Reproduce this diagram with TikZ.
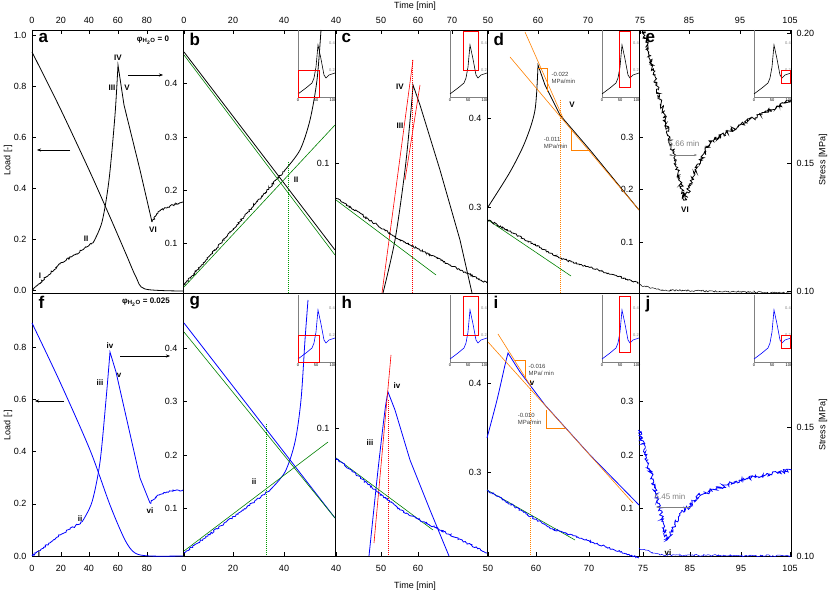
\documentclass[tikz,border=0pt]{standalone}
\usepackage{fontspec}
\setmainfont{Liberation Sans}
\usetikzlibrary{decorations.pathmorphing,arrows.meta}
\tikzset{
  curve/.style={line width=0.8pt},
  noisy/.style={decorate,decoration={random steps,segment length=1.2pt,amplitude=0.9pt}},
  rough/.style={decorate,decoration={random steps,segment length=1pt,amplitude=2pt}},
  fit/.style={line width=0.6pt},
  tick/.style={font=\fontsize{9}{9}\selectfont},
  plab/.style={font=\fontsize{17}{17}\selectfont\bfseries,anchor=north west},
  phase/.style={font=\fontsize{8}{8}\selectfont\bfseries},
  note/.style={font=\fontsize{6}{7}\selectfont,align=left,text=black!75},
}
\newcommand\inset[4]{% corner, colour, rect corners
  \begin{scope}[shift={#1}]
    \draw[gray,line width=0.3pt] (0,-67) -- (0,0) -- (37,0);
    \draw[#2,line width=0.6pt] (0,-3) -- (8,-9) -- (14,-14) -- (16,-19) -- (18,-30) -- (20,-52)
      -- (23,-38) -- (26,-22) -- (28,-19) -- (31,-22) -- (37,-24);
    \foreach \x/\t in {0/0,18/50,35/100} \node[font=\fontsize{4}{4}\selectfont] at (\x,3) {\t};
    \foreach \y/\t in {-27/0.2,-54/0.4} \node[font=\fontsize{4}{4}\selectfont,text=gray] at (34,\y) {\t};
    \draw[red,line width=0.7pt] #3 rectangle #4;
  \end{scope}}
\begin{document}
\begin{tikzpicture}[x=1pt,y=-1pt]
  \useasboundingbox (0,0) rectangle (831,593);
  % frames
  \draw[line width=0.6pt] (32,30) rectangle (791,556);
  \draw[line width=0.6pt] (32,293) -- (791,293);
  \foreach \x in {183,335,487,639} \draw[line width=0.6pt] (\x,30) -- (\x,556);

  % axis titles
  \node[tick] at (415,6) {Time [min]};
  \node[tick] at (415,586) {Time [min]};
  \foreach \y in {160,425} {
    \node[tick,rotate=90] at (8,\y) {Load [-]};
    \node[tick,rotate=90] at (823,\y) {Stress [MPa]};
  }

  % time ticks
  \foreach \x/\t in {32/0,61/20,89/40,118/60,147/80,184/0,233/20,284/40,336/40,381/50,418/60,452/70,488/50,538/60,588/70,640/75,689/85,740/95,790/105} {
    \node[tick] at (\x,20) {\t};
    \draw (\x,30) -- (\x,34);
  }
  \foreach \x/\t in {32/0,61/20,89/40,118/60,147/80,184/0,233/20,284/40,336/40,381/50,418/60,488/50,536/60,589/70,643/75,690/85,741/95,790/105} {
    \node[tick] at (\x,568) {\t};
    \draw (\x,556) -- (\x,552);
  }

  % load ticks
  \foreach \v in {0.0,0.2,0.4,0.6,0.8,1.0} {
    \node[tick,anchor=east] at (30,290-255*\v) {\v};
    \draw (32,290-255*\v) -- (36,290-255*\v);
  }
  \foreach \v in {0.0,0.2,0.4,0.6,0.8} {
    \node[tick,anchor=east] at (30,556-261*\v) {\v};
    \draw (32,556-261*\v) -- (36,556-261*\v);
  }
  % stress ticks
  \foreach \y/\t in {291/0.10,163/0.15,33/0.20,556/0.10,427/0.15} {
    \node[tick,anchor=west] at (793,\y) {\t};
    \draw (791,\y) -- (787,\y);
  }
  % inner axes
  \foreach \y/\t/\x in {83/0.4/183,137/0.3/183,190/0.2/183,243/0.1/183,163/0.1/335,118/0.4/487,207/0.3/487,137/0.3/639,189/0.2/639,242/0.1/639,
                        348/0.4/183,401/0.3/183,455/0.2/183,508/0.1/183,428/0.1/335,383/0.4/487,472/0.3/487,401/0.3/639,455/0.2/639,508/0.1/639} {
    \node[tick,anchor=east] at (\x-2,\y) {\t};
    \draw (\x,\y) -- (\x+4,\y);
  }

  % panel letters
  \foreach \x/\l in {32/a,183/b,335/c,487/d,639/e} \node[plab] at (\x+3,30) {\l};
  \foreach \x/\l in {32/f,183/g,335/h,487/i,639/j} \node[plab] at (\x+3,293) {\l};
  \node[phase] at (153,40) {φ\textsubscript{H\textsubscript{2}O} = 0};
  \node[phase] at (146,302) {φ\textsubscript{H\textsubscript{2}O} = 0.025};

  % ---- top row (black)
  \draw[curve,noisy] (32,290) -- (60,264) -- (93,243);
  \draw[curve] plot[smooth,tension=0.5] coordinates {(93,243) (102,222) (109,180) (115,115) (118,65)}
    -- (124,105) -- (140,170) -- (152,222);
  \draw[curve,noisy] (152,222) -- (158,212) -- (170,206) -- (183,202);
  \draw[curve] plot[smooth] coordinates {(32,52) (60,108) (90,172) (110,217) (126,254) (136,277) (145,289) (183,291)};
  \node[phase] at (40,276) {I};
  \node[phase] at (86,239) {II};
  \node[phase] at (112,88) {III};
  \node[phase] at (118,58) {IV};
  \node[phase] at (127,88) {V};
  \node[phase] at (153,230) {VI};
  \coordinate (aR1) at (128,75); \coordinate (aR2) at (163,75);
  \coordinate (aL1) at (70,150); \coordinate (aL2) at (37,150);
  \draw[-{Stealth[length=4pt]}] (aR1) -- (aR2);
  \draw[-{Stealth[length=4pt]}] (aL1) -- (aL2);

  % b
  \draw[curve,noisy] (184,285) -- (285,170);
  \draw[curve] plot[smooth] coordinates {(285,170) (300,150) (310,120) (317,80) (321,30)};
  \draw[curve] (184,52) -- (335,250);
  \draw[fit,green!50!black] (184,287) -- (335,125);
  \draw[fit,green!50!black] (184,55) -- (335,255);
  \draw[green!60!black,densely dotted,line width=1pt] (288,162) -- (288,293);
  \node[phase] at (296,180) {II};
  \inset{(298,97)}{black}{(0.5,0)}{(21,-27)}

  % c
  \draw[curve] plot[smooth,tension=0.5] coordinates {(383,293) (395,240) (405,170) (411,110) (413,85)}
    -- (420,105) -- (440,170) -- (460,240) -- (472,293);
  \draw[fit,red] (382,293) -- (413,60);
  \draw[fit,red] (405,180) -- (420,85);
  \draw[red,densely dotted,line width=1pt] (412,60) -- (412,293);
  \draw[fit,green!50!black] (336,200) -- (436,275);
  \draw[curve,noisy] (336,198) -- (400,240) -- (487,283);
  \node[phase] at (400,87) {IV};
  \node[phase] at (400,126) {III};
  \inset{(450,97)}{black}{(13,-27)}{(28,-66)}

  % d
  \draw[curve] plot[smooth,tension=0.5] coordinates {(488,207) (510,172) (525,142) (535,110) (538,65)}
    -- (545,85) -- (560,115) -- (590,150) -- (639,210);
  \draw[fit,orange] (525,32) -- (563,118);
  \draw[fit,orange] (510,57) -- (639,210);
  \draw[fit,orange] (538,68) -| (547,92);
  \draw[fit,orange] (571,130) |- (590,150);
  \draw[orange,densely dotted,line width=1pt] (560,100) -- (560,293);
  \node[note,anchor=west] at (548,78) {-0.022\\MPa/min};
  \node[note,anchor=east] at (571,143) {-0.011\\MPa/min};
  \node[phase] at (572,105) {V};
  \draw[fit,green!50!black] (488,220) -- (571,276);
  \draw[curve,noisy] (488,220) -- (560,258) -- (639,283);
  \inset{(602,97)}{black}{(17,-10)}{(28,-66)}

  % e
  \draw[curve,rough] (643,30) -- (660,100) -- (675,160) -- (685,200) -- (695,172) -- (710,142) -- (740,125) -- (791,100);
  \draw[line width=0.5pt,noisy] (639,285) -- (660,290) -- (791,293);
  \coordinate (e1) at (669,155); \coordinate (e2) at (697,155);
  \draw[gray,{Stealth[length=3pt]}-{Stealth[length=3pt]}] (e1) -- (e2);
  \node[note,text=gray,font=\fontsize{8}{8}\selectfont] at (684,144) {5.66 min};
  \node[phase] at (685,210) {VI};
  \inset{(754,97)}{black}{(27,-14)}{(36.5,-27)}

  % ---- bottom row (blue)
  \draw[curve,blue,noisy] (32,556) -- (60,535) -- (82,522);
  \draw[curve,blue] plot[smooth,tension=0.5] coordinates {(82,522) (92,502) (100,462) (106,400) (110,352)}
    -- (116,372) -- (140,478) -- (150,503);
  \draw[curve,blue,noisy] (150,503) -- (158,495) -- (170,491) -- (183,490);
  \draw[curve,blue] plot[smooth] coordinates {(32,323) (60,382) (90,450) (110,505) (125,540) (135,553) (150,556) (183,556)};
  \node[phase] at (39,554) {i};
  \node[phase] at (80,519) {ii};
  \node[phase] at (100,383) {iii};
  \node[phase] at (110,346) {iv};
  \node[phase] at (119,375) {v};
  \node[phase] at (150,511) {vi};
  \coordinate (fR1) at (120,356); \coordinate (fR2) at (170,356);
  \coordinate (fL1) at (64,401); \coordinate (fL2) at (35,401);
  \draw[-{Stealth[length=4pt]}] (fR1) -- (fR2);
  \draw[-{Stealth[length=4pt]}] (fL1) -- (fL2);

  % g
  \draw[curve,blue,noisy] (184,553) -- (270,490);
  \draw[curve,blue] plot[smooth] coordinates {(270,490) (285,472) (295,442) (301,400) (305,340) (308,300)};
  \draw[curve,blue] (184,323) -- (335,518);
  \draw[fit,green!50!black] (184,551) -- (328,442);
  \draw[fit,green!50!black] (184,332) -- (335,518);
  \draw[green!60!black,densely dotted,line width=1pt] (266,424) -- (266,556);
  \node[phase] at (254,482) {ii};
  \inset{(298,362)}{blue}{(0.5,0)}{(21,-27)}

  % h
  \draw[curve,blue] plot[smooth,tension=0.5] coordinates {(369,556) (378,470) (385,410) (388,392)}
    -- (395,410) -- (410,460) -- (430,510) -- (449,556);
  \draw[fit,red] (374,543) -- (391,355);
  \draw[red,densely dotted,line width=1pt] (388,400) -- (388,556);
  \draw[fit,green!50!black] (336,458) -- (433,530);
  \draw[curve,blue,noisy] (336,458) -- (400,510) -- (487,553);
  \node[phase] at (397,386) {iv};
  \node[phase] at (370,443) {iii};
  \inset{(450,362)}{blue}{(13,-27)}{(28,-66)}

  % i
  \draw[curve,blue] plot[smooth,tension=0.5] coordinates {(487,438) (497,400) (505,365) (508,353)}
    -- (520,372) -- (545,405) -- (590,455) -- (639,505);
  \draw[fit,orange] (488,342) -- (633,503);
  \draw[fit,orange] (498,334) -- (530,385);
  \draw[fit,orange] (515,360) -| (525,378);
  \draw[fit,orange] (546,410) |- (565,428);
  \draw[orange,densely dotted,line width=1pt] (530,380) -- (530,556);
  \node[note,anchor=west] at (525,370) {-0.016\\MPa/ min};
  \node[note,anchor=east] at (545,419) {-0.010\\MPa/min};
  \node[phase] at (532,383) {v};
  \draw[fit,green!50!black] (487,490) -- (575,540);
  \draw[curve,blue,noisy] (487,490) -- (550,528) -- (639,558);
  \inset{(602,362)}{blue}{(17,-10)}{(28,-66)}

  % j
  \draw[curve,blue,rough] (639,430) -- (650,470) -- (660,510) -- (667,540) -- (680,515) -- (700,495) -- (740,480) -- (791,470);
  \draw[line width=0.5pt,blue,noisy] (639,548) -- (660,555) -- (791,556);
  \coordinate (j1) at (690,507); \coordinate (j2) at (656,507);
  \draw[gray,-{Stealth[length=3pt]}] (j1) -- (j2);
  \node[note,text=gray,font=\fontsize{8}{8}\selectfont] at (670,497) {6.45 min};
  \node[phase] at (668,553) {vi};
  \inset{(754,362)}{blue}{(27,-14)}{(36.5,-27)}
\end{tikzpicture}
\end{document}
